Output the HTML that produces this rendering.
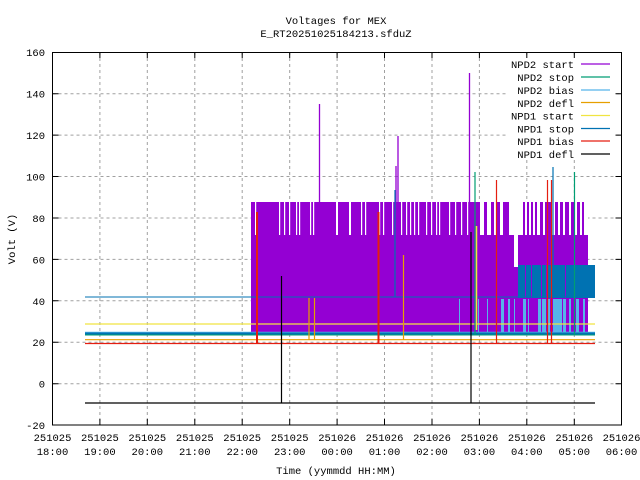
<!DOCTYPE html>
<html><head><meta charset="utf-8"><style>
html,body{margin:0;padding:0;background:#fff;}
svg{display:block;font-family:"Liberation Mono","DejaVu Sans Mono",monospace;font-size:10.5px;}
</style></head><body>
<svg width="640" height="480" viewBox="0 0 640 480" xmlns="http://www.w3.org/2000/svg">
<rect width="640" height="480" fill="#fff"/>
<!-- grid -->
<g stroke="#a0a0a0" stroke-width="1" stroke-dasharray="3,3" fill="none">
<path d="M99.9 52V425M147.3 52V425M194.8 52V425M242.2 52V425M289.7 52V425M337.1 52V425M384.5 52V425M432 52V425M479.4 52V425M526.8 52V425M574.3 52V425"/>
<path d="M52.5 93.7H621.5M52.5 135.1H621.5M52.5 176.5H621.5M52.5 218H621.5M52.5 259.4H621.5M52.5 300.8H621.5M52.5 342.2H621.5M52.5 383.7H621.5"/>
</g>
<!-- legend background -->
<rect x="508" y="57" width="107" height="102" fill="#fff"/>
<!-- purple block -->
<rect x="251" y="202" width="337" height="130" fill="#9400d3"/>
<!-- gaps in upper band -->
<g fill="#fff">
<rect x="255" y="202" width="1.2" height="33"/>
<rect x="279" y="202" width="1.2" height="33"/>
<rect x="284" y="202" width="1.2" height="33"/>
<rect x="289" y="202" width="1.2" height="33"/>
<rect x="296" y="202" width="1.2" height="33"/>
<rect x="299" y="202" width="1.2" height="33"/>
<rect x="310" y="202" width="1.2" height="33"/>
<rect x="313" y="202" width="1.2" height="33"/>
<rect x="336" y="202" width="2" height="33"/>
<rect x="349" y="202" width="2" height="33"/>
<rect x="361" y="202" width="1.2" height="33"/>
<rect x="365" y="202" width="1.2" height="33"/>
<rect x="379" y="202" width="1.2" height="33"/>
<rect x="383" y="202" width="1.2" height="33"/>
<rect x="392" y="202" width="1.2" height="33"/>
<rect x="401" y="202" width="1.2" height="33"/>
<rect x="406" y="202" width="1.2" height="33"/>
<rect x="410" y="202" width="1.2" height="33"/>
<rect x="414" y="202" width="1.2" height="33"/>
<rect x="418" y="202" width="1.2" height="33"/>
<rect x="426" y="202" width="1.2" height="33"/>
<rect x="431" y="202" width="1.2" height="33"/>
<rect x="436" y="202" width="1.2" height="33"/>
<rect x="439" y="202" width="1.2" height="33"/>
<rect x="449" y="202" width="1.2" height="33"/>
<rect x="455" y="202" width="1.2" height="33"/>
<rect x="461" y="202" width="1.2" height="33"/>
<rect x="467" y="202" width="1.2" height="33"/>
<rect x="480" y="202" width="4" height="33"/>
<rect x="487" y="202" width="4" height="33"/>
<rect x="494" y="202" width="3" height="33"/>
<rect x="500" y="202" width="3" height="33"/>
<rect x="509" y="202" width="14" height="33"/>
<rect x="525" y="202" width="2" height="33"/>
<rect x="529" y="202" width="2" height="33"/>
<rect x="533" y="202" width="2" height="33"/>
<rect x="537" y="202" width="3" height="33"/>
<rect x="543" y="202" width="2" height="33"/>
<rect x="551" y="202" width="4" height="33"/>
<rect x="558" y="202" width="2" height="33"/>
<rect x="563" y="202" width="2" height="33"/>
<rect x="569" y="202" width="2" height="33"/>
<rect x="575" y="202" width="2" height="33"/>
<rect x="580" y="202" width="2" height="33"/>
<rect x="584" y="202" width="4" height="33"/>
<rect x="514" y="235" width="4" height="32"/>
</g>
<!-- blue block -->
<rect x="518" y="265" width="77" height="33" fill="#0072b2"/>
<g fill="#9400d3"><rect x="525" y="265" width="1" height="33"/><rect x="531" y="265" width="1" height="33"/><rect x="541" y="265" width="1" height="33"/><rect x="546" y="265" width="1" height="33"/><rect x="565" y="265" width="1" height="33"/></g>
<!-- light blue bars -->
<g fill="#56b4e9">
<rect x="459" y="299" width="1" height="33"/><rect x="478" y="299" width="1" height="33"/>
<rect x="487" y="299" width="1" height="33"/><rect x="501" y="299" width="3" height="33"/>
<rect x="508" y="299" width="2" height="33"/><rect x="514" y="299" width="1" height="33"/>
<rect x="523" y="299" width="3" height="33"/><rect x="528" y="299" width="1" height="33"/>
<rect x="538" y="299" width="3" height="33"/><rect x="542" y="299" width="4" height="33"/>
<rect x="548" y="299" width="2" height="33"/><rect x="553" y="299" width="2" height="33"/>
<rect x="555" y="299" width="7" height="33"/><rect x="563" y="299" width="3" height="33"/>
<rect x="569" y="299" width="2" height="33"/><rect x="576" y="299" width="3" height="33"/>
<rect x="583" y="299" width="2" height="33"/>
</g>
<!-- horizontal lines -->
<g fill="none">
<path d="M85 297H595" stroke="#0072b2" stroke-width="1"/>
<path d="M85 324H595" stroke="#f0e442" stroke-width="1.2"/>
<path d="M85 332.5H595" stroke="#56b4e9" stroke-width="1.5"/>
<path d="M85 333.5H595" stroke="#0072b2" stroke-width="2"/>
<path d="M85 335H595" stroke="#009e73" stroke-width="1"/>
<path d="M85 339.7H595" stroke="#e69f00" stroke-width="1.2"/>
<path d="M85 343.5H595" stroke="#e51e10" stroke-width="1.2"/>
<path d="M85 403H595" stroke="#000" stroke-width="1.2"/>
</g>
<!-- spikes -->
<g fill="none">
<path d="M319.5 104V235M469.5 73V235M398 136V235M396 166V235" stroke="#9400d3" stroke-width="1.3"/>
<path d="M475 172V335M574.5 172V335" stroke="#009e73" stroke-width="1.2"/>
<path d="M553 167V298M395 190V297" stroke="#0072b2" stroke-width="1.2"/>
<path d="M476.5 226V330" stroke="#f0e442" stroke-width="1.5"/>
<path d="M309 298V340M314.5 298V340M403.5 255V340" stroke="#e69f00" stroke-width="1.2"/>
<path d="M257 212V343M378.5 212V343" stroke="#e51e10" stroke-width="2"/>
<path d="M496.5 180V343M547.5 180V343M551.5 180V343" stroke="#e51e10" stroke-width="1.2"/>
<path d="M281.5 276V403M471 232V403" stroke="#000" stroke-width="1.2"/>
</g>
<!-- axes frame -->
<rect x="52.5" y="52.5" width="569" height="372.5" fill="none" stroke="#000" stroke-width="1"/>
<g stroke="#000" stroke-width="1">
<path d="M99.9 425v-6M147.3 425v-6M194.8 425v-6M242.2 425v-6M289.7 425v-6M337.1 425v-6M384.5 425v-6M432 425v-6M479.4 425v-6M526.8 425v-6M574.3 425v-6"/>
<path d="M99.9 52v6M147.3 52v6M194.8 52v6M242.2 52v6M289.7 52v6M337.1 52v6M384.5 52v6M432 52v6M479.4 52v6M526.8 52v6M574.3 52v6"/>
<path d="M52.5 93.7h6M52.5 135.1h6M52.5 176.5h6M52.5 218h6M52.5 259.4h6M52.5 300.8h6M52.5 342.2h6M52.5 383.7h6"/>
<path d="M621.5 93.7h-6M621.5 135.1h-6M621.5 176.5h-6M621.5 218h-6M621.5 259.4h-6M621.5 300.8h-6M621.5 342.2h-6M621.5 383.7h-6"/>
</g>
<!-- y labels -->
<g text-anchor="end" fill="#000">
<text x="45" y="56">160</text><text x="45" y="97.5">140</text><text x="45" y="139">120</text>
<text x="45" y="180.5">100</text><text x="45" y="222">80</text><text x="45" y="263.5">60</text>
<text x="45" y="305">40</text><text x="45" y="346">20</text><text x="45" y="387.5">0</text><text x="45" y="429">-20</text>
</g>
<!-- x labels -->
<g text-anchor="middle" fill="#000">
<text x="52.5" y="441">251025</text><text x="52.5" y="455">18:00</text>
<text x="99.9" y="441">251025</text><text x="99.9" y="455">19:00</text>
<text x="147.3" y="441">251025</text><text x="147.3" y="455">20:00</text>
<text x="194.8" y="441">251025</text><text x="194.8" y="455">21:00</text>
<text x="242.2" y="441">251025</text><text x="242.2" y="455">22:00</text>
<text x="289.7" y="441">251025</text><text x="289.7" y="455">23:00</text>
<text x="337.1" y="441">251026</text><text x="337.1" y="455">00:00</text>
<text x="384.5" y="441">251026</text><text x="384.5" y="455">01:00</text>
<text x="432" y="441">251026</text><text x="432" y="455">02:00</text>
<text x="479.4" y="441">251026</text><text x="479.4" y="455">03:00</text>
<text x="526.8" y="441">251026</text><text x="526.8" y="455">04:00</text>
<text x="574.3" y="441">251026</text><text x="574.3" y="455">05:00</text>
<text x="621.5" y="441">251026</text><text x="621.5" y="455">06:00</text>
<text x="336" y="474">Time (yymmdd HH:MM)</text>
<text x="336" y="24">Voltages for MEX</text>
<text x="336" y="37">E_RT20251025184213.sfduZ</text>
</g>
<text transform="translate(15,239) rotate(-90)" text-anchor="middle">Volt (V)</text>
<!-- legend -->
<g text-anchor="end" textLength="60">
<text x="574" y="68">NPD2 start</text><text x="574" y="81">NPD2 stop</text>
<text x="574" y="94">NPD2 bias</text><text x="574" y="107">NPD2 defl</text>
<text x="574" y="119.5">NPD1 start</text><text x="574" y="132.5">NPD1 stop</text>
<text x="574" y="145">NPD1 bias</text><text x="574" y="158">NPD1 defl</text>
</g>
<g stroke-width="1.2">
<path d="M581 64H610" stroke="#9400d3"/><path d="M581 77H610" stroke="#009e73"/>
<path d="M581 90H610" stroke="#56b4e9"/><path d="M581 102.5H610" stroke="#e69f00"/>
<path d="M581 115.5H610" stroke="#f0e442"/><path d="M581 128.5H610" stroke="#0072b2"/>
<path d="M581 141H610" stroke="#e51e10"/><path d="M581 154H610" stroke="#000"/>
</g>
</svg>
</body></html>
